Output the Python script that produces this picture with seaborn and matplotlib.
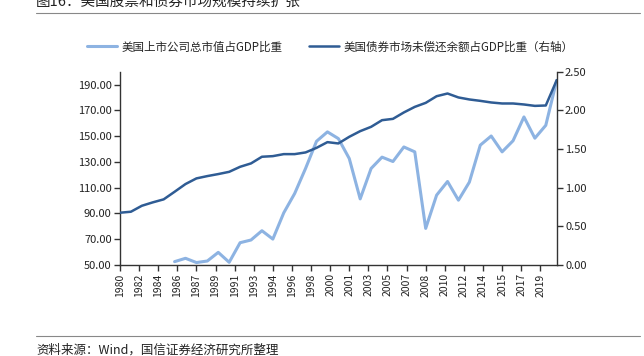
import numpy as np
import pandas as pd
import seaborn as sns
import matplotlib.pyplot as plt

# data
years = list(range(1980, 2021))
stock_gdp = [np.nan] * 5 + [52.6, 55.2, 51.9, 53.1, 59.8,
                            52.1, 67.3, 69.4, 76.6, 70.1,
                            90.5, 105.5, 125.0, 146.0, 153.3,
                            148.1, 132.6, 101.3, 124.9, 133.7,
                            130.3, 141.6, 137.8, 78.4, 104.2,
                            114.8, 100.3, 114.3, 143.0, 150.1,
                            137.8, 146.4, 164.9, 148.4, 158.4,
                            193.3]
bond_gdp = [0.676, 0.689, 0.766, 0.810, 0.849,
            0.947, 1.047, 1.120, 1.150, 1.176,
            1.205, 1.270, 1.314, 1.400, 1.408,
            1.434, 1.434, 1.456, 1.515, 1.589,
            1.572, 1.658, 1.731, 1.787, 1.873,
            1.890, 1.973, 2.045, 2.097, 2.183,
            2.218, 2.167, 2.141, 2.123, 2.102,
            2.089, 2.089, 2.076, 2.058, 2.063,
            2.390]
xtick_labels = ['1980', '1982', '1984', '1986', '1987', '1989', '1991', '1993',
                '1994', '1996', '1998', '2000', '2001', '2003', '2005', '2007',
                '2008', '2010', '2012', '2014', '2015', '2017', '2019']
stock_label = '美国上市公司总市值占GDP比重'
bond_label = '美国债券市场未偿还余额占GDP比重（右轴）'

df = pd.DataFrame({'year': years, 'stock': stock_gdp, 'bond': bond_gdp})

sns.set_style("white")
plt.rcParams['font.family'] = ['Noto Sans CJK SC', 'DejaVu Sans']

light = '#8db3e2'
dark = '#2f5c94'

fig = plt.figure(figsize=(6.44, 3.56), dpi=100)
ax = fig.add_axes([120 / 644, 1 - 265 / 356, (556.7 - 120) / 644, (265 - 71.7) / 356])
ax2 = ax.twinx()

sns.lineplot(data=df, x='year', y='stock', ax=ax, color=light, linewidth=2.2, label=stock_label, legend=False)
sns.lineplot(data=df, x='year', y='bond', ax=ax2, color=dark, linewidth=1.8, label=bond_label, legend=False)

ax.set_xlim(1980, 2020)
ax.set_ylim(50, 200)
ax.set_yticks(np.arange(50, 191, 20))
ax.set_yticklabels(['%.2f' % v for v in np.arange(50, 191, 20)], fontsize=8)
ax2.set_ylim(0, 2.5)
ax2.set_yticks(np.arange(0, 2.51, 0.5))
ax2.set_yticklabels(['%.2f' % v for v in np.arange(0, 2.51, 0.5)], fontsize=8)

ax.set_xticks([1980 + i * 1.75 for i in range(len(xtick_labels))])
ax.set_xticklabels(xtick_labels, rotation=90, fontsize=7.5)
ax.set_xlabel('')
ax.set_ylabel('')
ax2.set_ylabel('')

for a in (ax, ax2):
    a.spines['top'].set_visible(False)
    for s in ('left', 'right', 'bottom'):
        a.spines[s].set_color('#333333')
        a.spines[s].set_linewidth(1.0)
    a.tick_params(direction='out', length=4, width=1, color='#333333', labelcolor='#222222', pad=2)
ax.spines['right'].set_visible(False)
ax2.spines['left'].set_visible(False)
ax2.spines['bottom'].set_visible(False)
ax.tick_params(axis='y', left=True)
ax.tick_params(axis='x', bottom=True)
ax2.tick_params(axis='y', right=True)

h1, l1 = ax.get_legend_handles_labels()
h2, l2 = ax2.get_legend_handles_labels()
fig.legend(h1 + h2, l1 + l2, loc='center', bbox_to_anchor=(330 / 644, 1 - 47 / 356), ncol=2,
           frameon=False, fontsize=8.3, handlelength=2.6, handletextpad=0.4, columnspacing=2.3)

# title, rules and source
fig.text(36 / 644, 1 - 2 / 356, '图16：美国股票和债券市场规模持续扩张', fontsize=10.5, va='center', ha='left', color='#222222')
fig.add_artist(plt.Line2D([36 / 644, 640 / 644], [1 - 13 / 356, 1 - 13 / 356], color='#888888', linewidth=0.8))
fig.add_artist(plt.Line2D([36 / 644, 640 / 644], [1 - 335.5 / 356, 1 - 335.5 / 356], color='#888888', linewidth=0.8))
fig.text(36 / 644, 1 - 350 / 356, '资料来源：Wind，国信证券经济研究所整理', fontsize=9, va='center', ha='left', color='#222222')

fig.savefig('out.png', dpi=100)
